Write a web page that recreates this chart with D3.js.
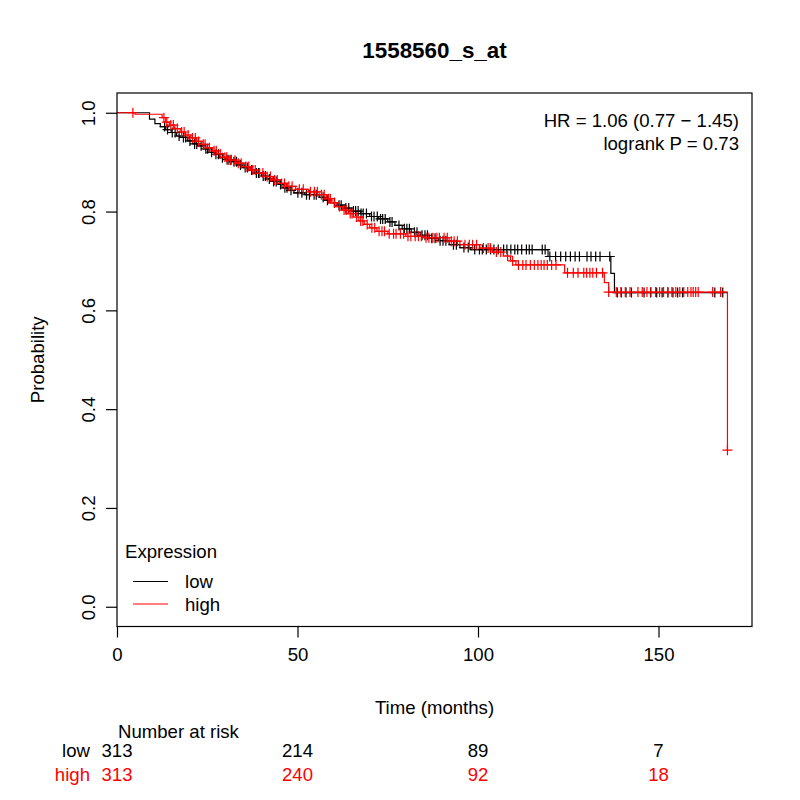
<!DOCTYPE html>
<html>
<head>
<meta charset="utf-8">
<script src="https://cdn.jsdelivr.net/npm/d3@7"></script>
<style>
  body { margin: 0; background: #fff; }
  svg { font-family: "Liberation Sans", Arial, Helvetica, sans-serif; }
</style>
</head>
<body>
<svg id="chart" width="800" height="800"></svg>
<script>
// ---------- data ----------
const chartTitle = "1558560_s_at";
const groups = ["low", "high"];
const groupColors = ["#000000", "#FF0000"];

// Kaplan–Meier steps: [time (months), survival after the event]
const lowSteps = [
  [9.0, 0.987], [10.5, 0.978], [12.0, 0.972], [13.5, 0.966], [15.0, 0.960],
  [16.5, 0.953], [18.0, 0.950], [19.5, 0.943], [21.0, 0.937], [22.5, 0.933],
  [24.0, 0.927], [25.5, 0.920], [27.0, 0.916], [28.5, 0.909], [30.0, 0.905],
  [32.0, 0.901], [33.5, 0.894], [35.0, 0.889], [36.5, 0.884], [38.0, 0.878],
  [40.0, 0.872], [41.5, 0.866], [43.0, 0.861], [44.5, 0.855], [46.0, 0.848],
  [47.5, 0.843], [49.0, 0.838], [52.0, 0.834], [56.0, 0.829], [57.5, 0.823],
  [59.0, 0.818], [61.0, 0.813], [63.0, 0.807], [65.0, 0.801], [67.5, 0.796],
  [70.0, 0.790], [72.5, 0.785], [75.0, 0.779], [77.0, 0.772], [79.0, 0.765],
  [81.5, 0.758], [84.0, 0.752], [86.5, 0.746], [89.0, 0.741], [92.0, 0.733],
  [95.0, 0.727], [98.0, 0.723], [119.4, 0.709], [136.8, 0.675], [137.8, 0.636]
];
const highSteps = [
  [5.0, 0.997], [12.5, 0.990], [13.5, 0.981], [14.5, 0.975], [16.0, 0.968],
  [17.5, 0.961], [19.0, 0.955], [20.5, 0.949], [22.0, 0.942], [23.5, 0.936],
  [25.0, 0.929], [26.5, 0.923], [28.0, 0.917], [29.5, 0.910], [31.0, 0.904],
  [33.0, 0.898], [35.0, 0.891], [37.0, 0.884], [39.0, 0.878], [41.0, 0.871],
  [43.0, 0.864], [45.0, 0.857], [47.0, 0.851], [49.5, 0.845], [53.0, 0.840],
  [56.0, 0.834], [58.0, 0.826], [59.5, 0.818], [61.0, 0.810], [62.5, 0.803],
  [64.0, 0.796], [65.5, 0.789], [67.0, 0.781], [68.5, 0.774], [70.0, 0.767],
  [72.0, 0.760], [75.0, 0.755], [80.0, 0.750], [85.0, 0.747], [92.0, 0.740],
  [95.0, 0.733], [100.5, 0.726], [104.0, 0.718], [107.0, 0.710], [109.0, 0.700],
  [110.5, 0.692], [124.0, 0.676], [135.0, 0.656], [136.2, 0.637], [169.1, 0.317]
];

// censoring times (months)
const lowCensor = [
  13.2, 14.0, 15.3, 16.1, 17.2, 18.4, 19.0, 20.2, 21.5, 22.1, 23.3, 24.6, 25.1, 26.2,
  27.4, 28.1, 29.2, 30.5, 31.0, 31.6, 32.4, 33.1, 34.2, 35.5, 36.1, 37.3, 38.6, 39.2,
  40.5, 41.1, 42.2, 43.4, 44.1, 45.3, 46.5, 47.1, 48.2, 50.1, 51.2, 52.5, 53.3, 54.6,
  55.2, 57.1, 58.3, 60.2, 61.5, 62.1, 63.4, 64.2, 65.5, 66.1, 66.8, 67.6, 68.2, 69.1,
  70.5, 71.2, 72.1, 73.0, 73.6, 74.3, 75.6, 76.2, 78.1, 79.6, 80.3, 81.0, 82.4, 83.1,
  84.5, 85.3, 86.0, 87.2, 88.1, 89.5, 90.3, 91.1, 93.2, 94.0, 96.1, 97.3, 99.1, 100.4,
  101.2, 102.3, 103.5, 104.4, 105.6, 107.1, 108.0, 109.1, 110.2, 111.0, 112.1, 113.4,
  114.2, 115.0, 117.8, 118.6, 119.9, 121.5, 122.9, 124.3, 125.6, 126.9, 128.1, 130.2,
  131.3, 132.6, 133.8, 136.5, 138.6, 139.7, 141.0, 142.5, 146.0, 147.8, 149.5, 151.0,
  152.6, 154.0, 155.3, 156.7, 165.6, 167.8
];
const highCensor = [
  4.4, 13.0, 13.8, 14.9, 15.6, 16.7, 17.9, 18.6, 19.7, 20.9, 21.7, 22.6, 23.9, 24.4,
  25.6, 26.9, 27.5, 28.6, 29.9, 30.4, 31.5, 32.7, 33.6, 34.4, 35.7, 36.5, 37.6, 38.3,
  39.5, 40.4, 41.6, 42.5, 43.6, 44.4, 45.6, 46.4, 47.6, 48.5, 50.5, 51.6, 53.6, 54.7,
  55.5, 56.6, 57.4, 58.6, 59.1, 60.3, 61.6, 62.9, 63.5, 64.6, 65.1, 66.4, 67.5, 68.1,
  69.3, 70.6, 71.4, 72.6, 73.4, 74.1, 75.4, 76.6, 77.3, 78.5, 79.4, 80.6, 81.4, 82.6,
  83.5, 84.3, 85.6, 86.4, 87.5, 88.6, 89.3, 90.6, 91.5, 92.6, 93.4, 94.3, 96.4, 97.6,
  98.5, 99.6, 101.5, 102.8, 103.4, 105.1, 106.3, 108.2, 109.6, 111.2, 112.4, 113.3,
  114.5, 115.6, 116.6, 117.5, 118.3, 119.2, 120.4, 121.6, 124.8, 126.4, 127.7, 129.3,
  130.1, 131.0, 131.8, 132.8, 134.5, 136.2, 138.3, 139.6, 140.8, 142.1, 144.3, 145.5,
  146.8, 147.9, 149.2, 150.3, 151.4, 152.6, 153.7, 154.8, 155.9, 157.0, 158.1, 159.0,
  159.6, 160.3, 161.0, 165.0, 167.2, 169.1
];

const xTicks = [0, 50, 100, 150];
const yTicks = [0, 0.2, 0.4, 0.6, 0.8, 1.0];
const riskLow = [313, 214, 89, 7];
const riskHigh = [313, 240, 92, 18];
const statLines = ["HR = 1.06 (0.77 \u2212 1.45)", "logrank P = 0.73"];
const xLabel = "Time (months)";
const yLabel = "Probability";
const legendTitle = "Expression";
const riskTitle = "Number at risk";

// ---------- layout ----------
const box = { left: 117, right: 752, top: 93, bottom: 626.5 };
const fs = 18.6;
const svg = d3.select("#chart");

const x = d3.scaleLinear().domain([0, 175.9]).range([box.left, box.right]);
const y = d3.scaleLinear().domain([-0.04, 1.04]).range([box.bottom, box.top]);

// title
svg.append("text")
  .attr("x", (box.left + box.right) / 2).attr("y", 58)
  .attr("text-anchor", "middle").attr("font-weight", "bold")
  .attr("font-size", 22.4).text(chartTitle);

// curves
const stepLine = d3.line().x(d => x(d[0])).y(d => y(d[1])).curve(d3.curveStepAfter);
function survAt(steps, t) {
  let s = 1;
  for (const st of steps) { if (st[0] <= t) s = st[1]; }
  return s;
}
const series = [
  { steps: lowSteps, censor: lowCensor, color: groupColors[0] },
  { steps: highSteps, censor: highCensor, color: groupColors[1] }
];
const plot = svg.append("g");
series.forEach(g => {
  const lastT = Math.max(d3.max(g.censor), d3.max(g.steps, d => d[0]));
  const pts = [[0, 1]].concat(g.steps);
  pts.push([lastT, g.steps[g.steps.length - 1][1]]);
  plot.append("path").attr("d", stepLine(pts))
    .attr("fill", "none").attr("stroke", g.color).attr("stroke-width", 1.2);
  const c = d3.path();
  g.censor.forEach(t => {
    const cx = x(t), cy = y(survAt(g.steps, t));
    c.moveTo(cx - 5, cy); c.lineTo(cx + 5, cy);
    c.moveTo(cx, cy - 5); c.lineTo(cx, cy + 5);
  });
  plot.append("path").attr("d", c.toString())
    .attr("fill", "none").attr("stroke", g.color).attr("stroke-width", 1.2);
});

// box
svg.append("rect")
  .attr("x", box.left).attr("y", box.top)
  .attr("width", box.right - box.left).attr("height", box.bottom - box.top)
  .attr("fill", "none").attr("stroke", "#000").attr("stroke-width", 1.2);

// x axis
const xAxis = d3.axisBottom(x).tickValues(xTicks).tickSize(11).tickPadding(10)
  .tickFormat(d3.format("d"));
const gx = svg.append("g").attr("transform", `translate(0,${box.bottom})`).call(xAxis);
gx.select(".domain").remove();
gx.selectAll("line").attr("stroke-width", 1.2);
gx.selectAll("text").attr("font-size", fs).attr("font-family", "Liberation Sans, Arial, sans-serif")
  .attr("fill", "#000").attr("dy", "0.72em");

// y axis
const yAxis = d3.axisLeft(y).tickValues(yTicks).tickSize(11).tickFormat(d3.format(".1f"));
const gy = svg.append("g").attr("transform", `translate(${box.left},0)`).call(yAxis);
gy.select(".domain").remove();
gy.selectAll("line").attr("stroke-width", 1.2);
gy.selectAll("text")
  .attr("font-size", fs).attr("font-family", "Liberation Sans, Arial, sans-serif")
  .attr("fill", "#000")
  .attr("x", null).attr("dy", null)
  .attr("text-anchor", "middle")
  .attr("transform", "translate(-22,0) rotate(-90)");

// axis labels
svg.append("text").attr("x", (box.left + box.right) / 2).attr("y", 714)
  .attr("text-anchor", "middle").attr("font-size", fs).text(xLabel);
svg.append("text")
  .attr("transform", `translate(44,${(box.top + box.bottom) / 2}) rotate(-90)`)
  .attr("text-anchor", "middle").attr("font-size", fs).text(yLabel);

// stats
statLines.forEach((s, i) => {
  svg.append("text").attr("x", 739).attr("y", 127 + i * 22.5)
    .attr("text-anchor", "end").attr("font-size", fs).text(s);
});

// legend
svg.append("text").attr("x", 125).attr("y", 558).attr("font-size", fs).text(legendTitle);
groups.forEach((gname, i) => {
  const ly = 581.5 + i * 22.5;
  svg.append("line").attr("x1", 133).attr("x2", 168).attr("y1", ly).attr("y2", ly)
    .attr("stroke", groupColors[i]).attr("stroke-width", 1.2);
  svg.append("text").attr("x", 185).attr("y", ly + 6.7).attr("font-size", fs).text(gname);
});

// number at risk
svg.append("text").attr("x", 118).attr("y", 738).attr("font-size", fs).text(riskTitle);
[riskLow, riskHigh].forEach((row, i) => {
  const by = 757 + i * 24;
  svg.append("text").attr("x", 90).attr("y", by).attr("text-anchor", "end")
    .attr("font-size", fs).attr("fill", groupColors[i]).text(groups[i]);
  row.forEach((v, j) => {
    svg.append("text").attr("x", x(xTicks[j])).attr("y", by).attr("text-anchor", "middle")
      .attr("font-size", fs).attr("fill", groupColors[i]).text(v);
  });
});
</script>
</body>
</html>
